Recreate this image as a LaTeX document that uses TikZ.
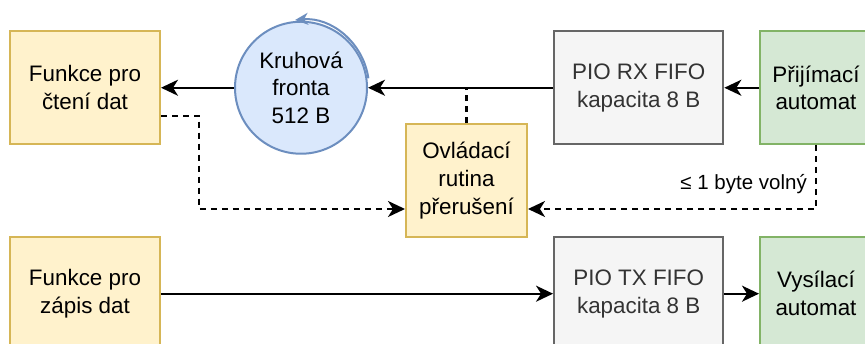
\documentclass[tikz,border=0pt]{standalone}
\usepackage{fontspec}
\setmainfont{Liberation Sans}
\usetikzlibrary{arrows.meta,calc}

\definecolor{ylwfill}{HTML}{FFF2CC}
\definecolor{ylwline}{HTML}{D6B656}
\definecolor{bluefill}{HTML}{DAE8FC}
\definecolor{blueline}{HTML}{6C8EBF}
\definecolor{grayfill}{HTML}{F5F5F5}
\definecolor{grayline}{HTML}{666666}
\definecolor{graytext}{HTML}{333333}
\definecolor{grnfill}{HTML}{D5E8D4}
\definecolor{grnline}{HTML}{82B366}

\tikzset{
  boxbase/.style={draw, line width=2pt, minimum height=112.5pt, align=center,
    inner sep=0pt, font=\fontsize{22.4}{27.7}\selectfont},
  funcbox/.style={boxbase, fill=ylwfill, draw=ylwline, minimum width=150pt},
  isrbox/.style={boxbase, fill=ylwfill, draw=ylwline, minimum width=121pt, minimum height=113pt},
  fifobox/.style={boxbase, fill=grayfill, draw=grayline, text=graytext, minimum width=169.3pt},
  fsmbox/.style={boxbase, fill=grnfill, draw=grnline, minimum width=112pt},
  ringbuf/.style={circle, draw=blueline, fill=bluefill, line width=2pt, minimum size=132pt,
    inner sep=0pt, align=center, font=\fontsize{22.4}{27.7}\selectfont},
  tip/.style={-{Stealth[length=17pt,width=16pt,inset=5pt]}},
  flow/.style={tip, line width=2.1pt, black},
  ctrl/.style={flow, dash pattern=on 6pt off 5pt},
  edgelabel/.style={font=\fontsize{20.5}{24}\selectfont, inner sep=0pt}
}

\begin{document}
\begin{tikzpicture}[x=1pt,y=1pt]
  \useasboundingbox (0,0) rectangle (865,344);
  \fill[white] (0,0) rectangle (865,344);
  \clip (0,0) rectangle (865,344);

  % receive path
  \node[funcbox] (rd) at (85,256.25) {Funkce pro\\čtení dat};
  \node[ringbuf] (ring) at (301,256.25) {Kruhová\\fronta\\512 B};
  \node[fifobox] (rx) at (638.7,256.25) {PIO RX FIFO\\kapacita 8 B};
  \node[fsmbox] (rxfsm) at (816,256.25) {Přijímací\\automat};
  \node[isrbox] (isr) at (466.5,163.3) {Ovládací\\rutina\\přerušení};

  % transmit path
  \node[funcbox] (wr) at (85,50.3) {Funkce pro\\zápis dat};
  \node[fifobox] (tx) at (638.7,50.3) {PIO TX FIFO\\kapacita 8 B};
  \node[fsmbox] (txfsm) at (816,50.3) {Vysílací\\automat};

  % ring buffer wrap-around
  \draw[line width=2pt, blueline, -{Stealth[length=13pt,width=12pt,inset=4pt]}]
    ($(ring.center)+(8:68)$) arc[start angle=8, end angle=95, radius=68];

  % data flow
  \draw[flow] (rxfsm.west) -- (rx.east);
  \draw[flow] (rx.west) -- (ring.east);
  \draw[flow] (ring.west) -- (rd.east);
  \draw[flow] (wr.east) -- (tx.west);
  \draw[flow] (tx.east) -- (txfsm.west);

  % interrupt control
  \draw[line width=2.1pt, dash pattern=on 6pt off 5pt] (isr.north) -- (isr.north |- rx.west);
  \draw[ctrl] ([yshift=-28pt]rd.east) -- ++(38pt,0) |- ([yshift=-28.3pt]isr.west);
  \draw[ctrl] (rxfsm.south) |- ([yshift=-28.3pt]isr.east);
  \node[edgelabel, anchor=east] (full) at (807,160) {≤ 1 byte volný};
\end{tikzpicture}
\end{document}
